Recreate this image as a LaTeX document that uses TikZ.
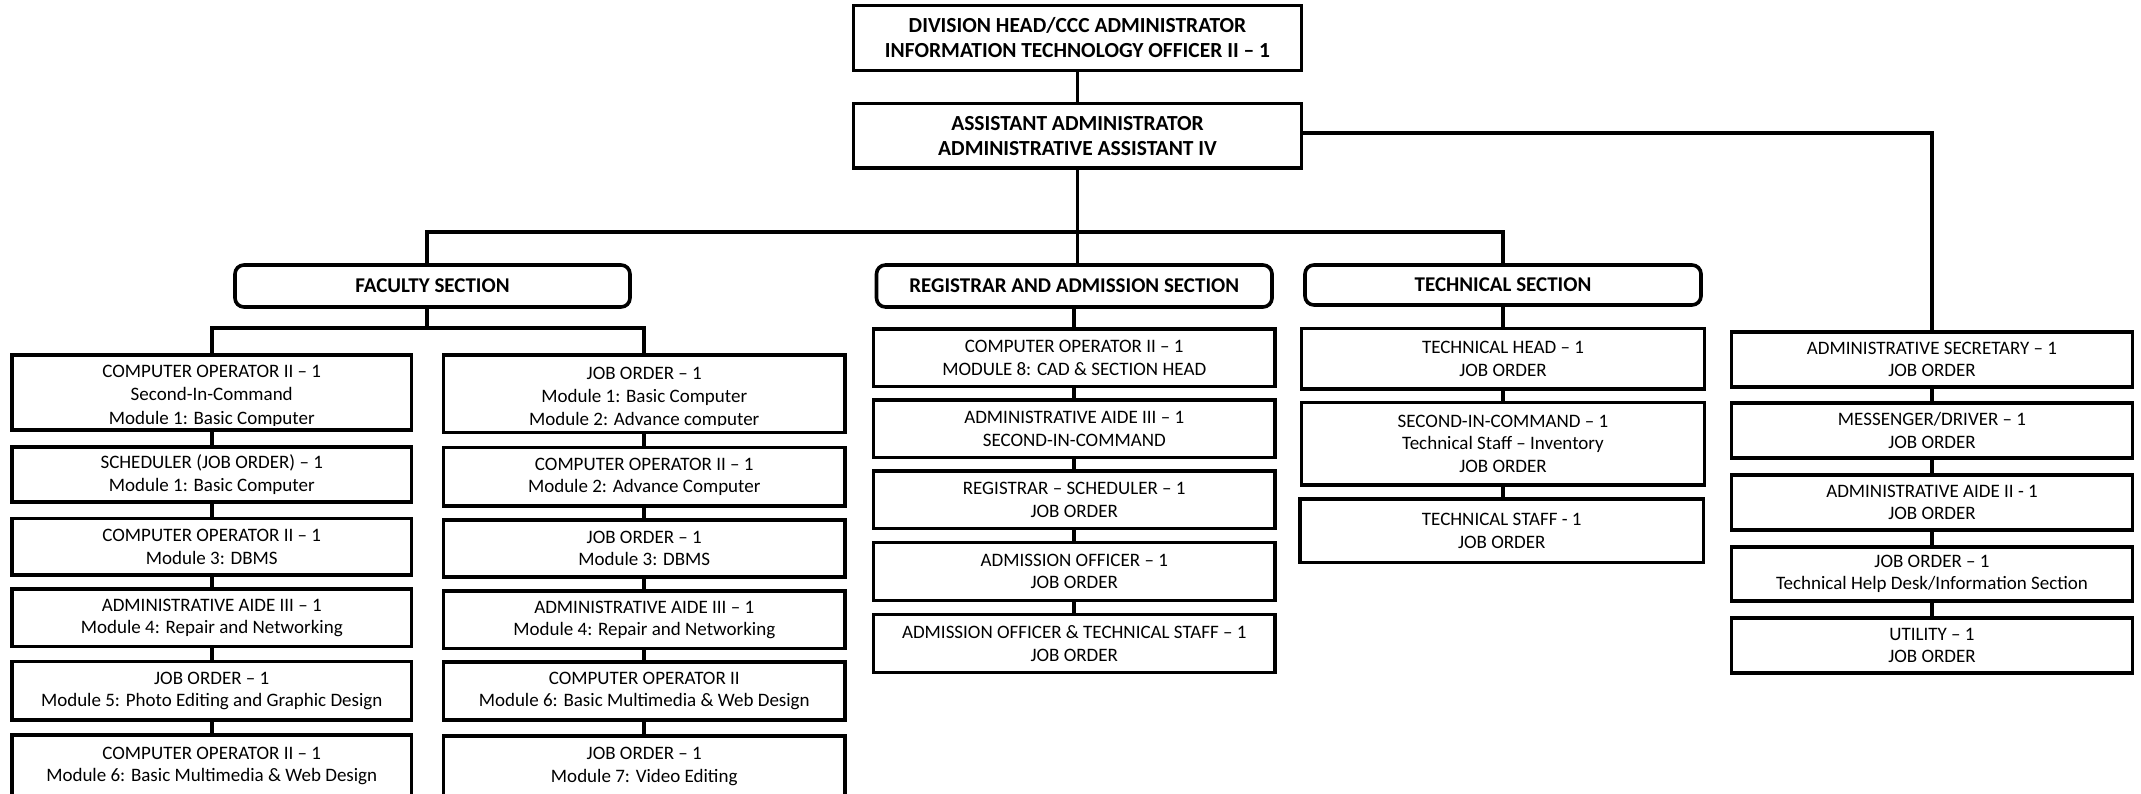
\documentclass[tikz,border=0pt]{standalone}
\usepackage{fontspec}
\setmainfont{Carlito}
% box with its outline given by two corners (x1,y1) and (x2,y2)
\newcommand{\orgbox}[7]{%
  \node[#1,minimum width={(#5-#3)*1pt},minimum height={(#6-#4)*1pt}]
    (#2) at ({(#3+#5)/2},{(#4+#6)/2}) {#7};}
% vertical link from the bottom of one box to the top of the next
\newcommand{\chainlink}[2]{\draw[link] (#1.south) -- (#1.south |- #2.north);}
\begin{document}
\begin{tikzpicture}[x=1pt,y=-1pt,
  pbox/.style={draw,line width=3.6pt,rectangle,inner sep=0pt,align=center,
    font=\fontsize{19}{22.5}\selectfont},
  headbox/.style={pbox,font=\bfseries\fontsize{21.5}{25}\selectfont},
  secbox/.style={pbox,rounded corners=9pt,font=\bfseries\fontsize{21}{25}\selectfont},
  txt/.style={inner sep=0pt,font=\fontsize{19}{22.5}\selectfont},
  link/.style={line width=3.6pt}]
\useasboundingbox (0,0) rectangle (2141,794);

% head office
\orgbox{headbox}{top}{853.5}{5.5}{1301.5}{70.5}{DIVISION HEAD/CCC ADMINISTRATOR\\INFORMATION TECHNOLOGY OFFICER II – 1}
\orgbox{headbox}{asst}{853.5}{103.5}{1301.5}{168}{ASSISTANT ADMINISTRATOR\\ADMINISTRATIVE ASSISTANT IV}

% sections
\orgbox{secbox}{fac}{235}{265}{630}{307}{FACULTY SECTION}
\orgbox{secbox}{reg}{876.5}{265}{1272}{307}{REGISTRAR AND ADMISSION SECTION}
\orgbox{secbox}{tech}{1305}{265}{1701}{305}{TECHNICAL SECTION}

% faculty, left column
\orgbox{pbox}{fl1}{12}{355}{411.5}{430}{}
\begin{scope}
  \clip (14,358) rectangle (409.5,425.5);
  \node[txt,anchor=base] (fl1a) at (211.75,377.5) {COMPUTER OPERATOR II – 1};
  \node[txt,anchor=base] (fl1b) at (211.75,400.5) {Second-In-Command};
  \node[txt,anchor=base] (fl1c) at (211.75,424) {Module 1: Basic Computer};
\end{scope}
\orgbox{pbox}{fl2}{12}{447}{411.5}{502}{SCHEDULER (JOB ORDER) – 1\\Module 1: Basic Computer}
\orgbox{pbox}{fl3}{12}{518.5}{411.5}{575}{COMPUTER OPERATOR II – 1\\Module 3: DBMS}
\orgbox{pbox}{fl4}{12}{589}{411.5}{646.5}{ADMINISTRATIVE AIDE III – 1\\Module 4: Repair and Networking}
\orgbox{pbox}{fl5}{12}{661.5}{411.5}{720}{JOB ORDER – 1\\Module 5: Photo Editing and Graphic Design}
\orgbox{pbox}{fl6}{12}{735}{411.5}{797}{COMPUTER OPERATOR II – 1\\Module 6: Basic Multimedia \& Web Design}

% faculty, right column
\orgbox{pbox}{fr1}{443.5}{355}{845}{432.5}{}
\begin{scope}
  \clip (445.5,358) rectangle (843,425.5);
  \node[txt,anchor=base] (fr1a) at (644.25,379.5) {JOB ORDER – 1};
  \node[txt,anchor=base] (fr1b) at (644.25,402) {Module 1: Basic Computer};
  \node[txt,anchor=base] (fr1c) at (644.25,425) {Module 2: Advance computer};
\end{scope}
\orgbox{pbox}{fr2}{443.5}{447.5}{845}{506}{COMPUTER OPERATOR II – 1\\Module 2: Advance Computer}
\orgbox{pbox}{fr3}{443.5}{520}{845}{577}{JOB ORDER – 1\\Module 3: DBMS}
\orgbox{pbox}{fr4}{443.5}{591}{845}{648.5}{ADMINISTRATIVE AIDE III – 1\\Module 4: Repair and Networking}
\orgbox{pbox}{fr5}{443.5}{662}{845}{720}{COMPUTER OPERATOR II\\Module 6: Basic Multimedia \& Web Design}
\orgbox{pbox}{fr6}{443.5}{736}{845}{797}{JOB ORDER – 1\\Module 7: Video Editing}

% registrar and admission
\orgbox{pbox}{r1}{873.5}{329}{1275}{386.5}{COMPUTER OPERATOR II – 1\\MODULE 8: CAD \& SECTION HEAD}
\orgbox{pbox}{r2}{873.5}{400}{1275}{457.5}{ADMINISTRATIVE AIDE III – 1\\SECOND-IN-COMMAND}
\orgbox{pbox}{r3}{873.5}{471}{1275}{528.5}{REGISTRAR – SCHEDULER – 1\\JOB ORDER}
\orgbox{pbox}{r4}{873.5}{542.5}{1275}{600.5}{ADMISSION OFFICER – 1\\JOB ORDER}
\orgbox{pbox}{r5}{873.5}{614.5}{1275}{672.5}{ADMISSION OFFICER \& TECHNICAL STAFF – 1\\JOB ORDER}

% technical
\orgbox{pbox}{t1}{1301.5}{328.5}{1704.5}{389}{TECHNICAL HEAD – 1\\JOB ORDER}
\orgbox{pbox}{t2}{1301.5}{402.5}{1704.5}{485}{SECOND-IN-COMMAND – 1\\Technical Staff – Inventory\\JOB ORDER}
\orgbox{pbox}{t3}{1300}{499}{1703.5}{562.5}{TECHNICAL STAFF - 1\\JOB ORDER}

% administrative staff
\orgbox{pbox}{a1}{1731.5}{332}{2132.5}{387}{ADMINISTRATIVE SECRETARY – 1\\JOB ORDER}
\orgbox{pbox}{a2}{1731.5}{403}{2132.5}{458}{MESSENGER/DRIVER – 1\\JOB ORDER}
\orgbox{pbox}{a3}{1731.5}{475}{2132.5}{530}{ADMINISTRATIVE AIDE II - 1\\JOB ORDER}
\orgbox{pbox}{a4}{1731.5}{547}{2132.5}{601}{JOB ORDER – 1\\Technical Help Desk/Information Section}
\orgbox{pbox}{a5}{1731.5}{618}{2132.5}{673}{UTILITY – 1\\JOB ORDER}

% bus lines
\coordinate (busL) at (427,232);
\coordinate (busR) at (1503,232);
\coordinate (fbus) at (427,328);

\draw[link] (top.south) -- (asst.north);
\draw[link] (asst.south) -- (asst.south |- reg.north);
\draw[link] (fac.north -| busL) -- (busL) -- (busR) -- (tech.north);
\draw[link] ([yshift=3pt]asst.east) -| (a1.north);
\draw[link] (fac.south -| fbus) -- (fbus);
\draw[link] (fl1.north) -- (fl1.north |- fbus) -- (fr1.north |- fbus) -- (fr1.north);

\chainlink{fl1}{fl2}\chainlink{fl2}{fl3}\chainlink{fl3}{fl4}\chainlink{fl4}{fl5}\chainlink{fl5}{fl6}
\chainlink{fr1}{fr2}\chainlink{fr2}{fr3}\chainlink{fr3}{fr4}\chainlink{fr4}{fr5}\chainlink{fr5}{fr6}
\chainlink{reg}{r1}\chainlink{r1}{r2}\chainlink{r2}{r3}\chainlink{r3}{r4}\chainlink{r4}{r5}
\chainlink{tech}{t1}\chainlink{t1}{t2}\chainlink{t2}{t3}
\chainlink{a1}{a2}\chainlink{a2}{a3}\chainlink{a3}{a4}\chainlink{a4}{a5}
\end{tikzpicture}
\end{document}
